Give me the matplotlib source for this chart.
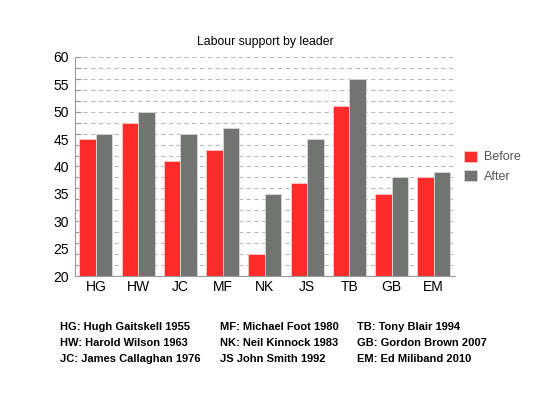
import matplotlib
matplotlib.use("Agg")
import matplotlib.pyplot as plt
import numpy as np

plt.rcParams['font.family'] = ['Liberation Sans', 'DejaVu Sans']

categories = ["HG", "HW", "JC", "MF", "NK", "JS", "TB", "GB", "EM"]
before = [45, 48, 41, 43, 24, 37, 51, 35, 38]
after = [46, 50, 46, 47, 35, 45, 56, 38, 39]
series_names = ["Before", "After"]
notes = [
    ["HG: Hugh Gaitskell 1955", "HW: Harold Wilson 1963", "JC: James Callaghan 1976"],
    ["MF: Michael Foot 1980", "NK: Neil Kinnock 1983", "JS John Smith 1992"],
    ["TB: Tony Blair 1994", "GB: Gordon Brown 2007", "EM: Ed Miliband 2010"],
]

red = "#ff2a2a"
grey = "#717471"

fig = plt.figure(figsize=(5.5, 4), dpi=100)
ax = fig.add_axes([0.136, 0.31, 0.691, 0.5475])

x = np.arange(len(categories))
w = 0.39
ax.bar(x - w/2, np.array(before) - 20, w, bottom=20, color=red, edgecolor="#ffc8c8", linewidth=0.6, label=series_names[0])
ax.bar(x + w/2, np.array(after) - 20, w, bottom=20, color=grey, edgecolor="#d8d8d8", linewidth=0.6, label=series_names[1])

ax.set_xlim(-0.5, len(categories) - 0.5)
ax.set_ylim(20, 60)
# gridlines / small ticks every 2, labels every 5
ax.set_yticks(np.arange(20, 61, 2))
ax.set_yticklabels([])
ax.yaxis.remove_overlapping_locs = False
ax.set_yticks(np.arange(20, 61, 5), minor=True)
ax.set_yticklabels([str(v) for v in range(20, 61, 5)], minor=True)
ax.set_xticks(x)
ax.set_xticklabels(categories)
ax.yaxis.grid(True, which="major", linestyle=(0, (4, 3)), color="#bbbbbb", linewidth=0.8)
ax.set_axisbelow(True)
for s in ["top", "right"]:
    ax.spines[s].set_visible(False)
for s in ["left", "bottom"]:
    ax.spines[s].set_color("#999999")
ax.tick_params(axis="y", which="major", length=4, direction="in", color="#999999")
ax.tick_params(axis="y", which="minor", length=0, labelsize=10, pad=4)
ax.tick_params(axis="x", length=0, labelsize=10, pad=3)

ax.set_title("Labour support by leader", fontsize=8.8, pad=9)

ax.legend(loc="center left", bbox_to_anchor=(0.995, 0.5), frameon=False, fontsize=9,
          handlelength=1.0, handleheight=1.0, handletextpad=0.6, labelcolor="#555555")

col_x = [60, 220, 357]
row_y = [327, 343, 359]
for ci, col in enumerate(notes):
    for ri, t in enumerate(col):
        fig.text(col_x[ci] / 550, 1 - row_y[ri] / 400, t, fontsize=8, fontweight="bold",
                 va="center", ha="left")

fig.savefig("out.png", dpi=100)
